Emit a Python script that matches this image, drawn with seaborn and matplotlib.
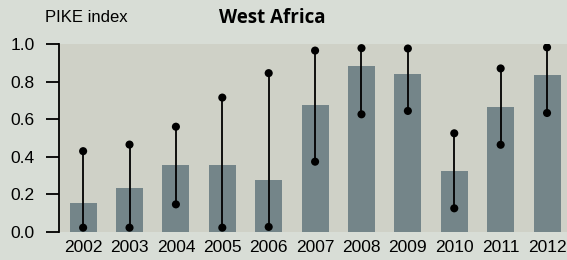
import matplotlib
matplotlib.use("Agg")
import matplotlib.pyplot as plt
import seaborn as sns
import pandas as pd

years = ["2002", "2003", "2004", "2005", "2006", "2007", "2008", "2009", "2010", "2011", "2012"]
pike = [0.155, 0.235, 0.355, 0.355, 0.275, 0.675, 0.885, 0.84, 0.325, 0.665, 0.835]
upper = [0.43, 0.465, 0.56, 0.715, 0.845, 0.965, 0.978, 0.976, 0.525, 0.87, 0.982]
lower = [0.023, 0.023, 0.147, 0.023, 0.027, 0.374, 0.626, 0.644, 0.126, 0.464, 0.633]

df = pd.DataFrame({"year": years, "pike": pike, "upper": upper, "lower": lower})

sns.set_style("white")
plt.rcParams["font.family"] = ["Liberation Sans", "DejaVu Sans"]
plt.rcParams["text.color"] = "black"
plt.rcParams["xtick.color"] = "black"
plt.rcParams["ytick.color"] = "black"

fig = plt.figure(figsize=(5.67, 2.60), dpi=100)
fig.patch.set_facecolor("#d8ddd6")
ax = fig.add_axes([59 / 567, 28 / 260, 508 / 567, 188 / 260])
ax.set_facecolor("#cfd1c7")

sns.barplot(data=df, x="year", y="pike", color="#748589", width=0.58,
            saturation=1, linewidth=0, ax=ax)

xs = range(len(years))
ax.vlines(xs, df["lower"], df["upper"], color="black", lw=1.3, zorder=3)
sns.scatterplot(x=list(xs) * 2, y=list(df["upper"]) + list(df["lower"]),
                color="black", s=34, edgecolor="none", zorder=4, ax=ax,
                legend=False)

ax.set_ylim(0, 1.0)
ax.set_xlim(-0.52, len(years) - 0.57)
ax.set_yticks([0, 0.2, 0.4, 0.6, 0.8, 1.0])
ax.set_yticklabels(["0.0", "0.2", "0.4", "0.6", "0.8", "1.0"])
ax.set_xlabel("")
ax.set_ylabel("")

for s in ["top", "right", "bottom"]:
    ax.spines[s].set_visible(False)
ax.spines["left"].set_color("black")
ax.spines["left"].set_linewidth(1.3)
ax.tick_params(axis="y", length=9.5, width=1.3, color="black", left=True,
               labelsize=12.5, pad=8, labelcolor="black")
ax.tick_params(axis="x", length=0, labelsize=12.5, pad=6, labelcolor="black")

fig.text(45 / 567, 1 - 18 / 260, "PIKE index", fontsize=12, va="center",
         ha="left", color="black")
fig.text(272 / 567, 1 - 18 / 260, "West Africa", fontsize=13.5,
         fontweight="bold", va="center", ha="center", color="black",
         family=["Open Sans", "DejaVu Sans"])

fig.savefig("out.png", dpi=100, facecolor=fig.get_facecolor())
